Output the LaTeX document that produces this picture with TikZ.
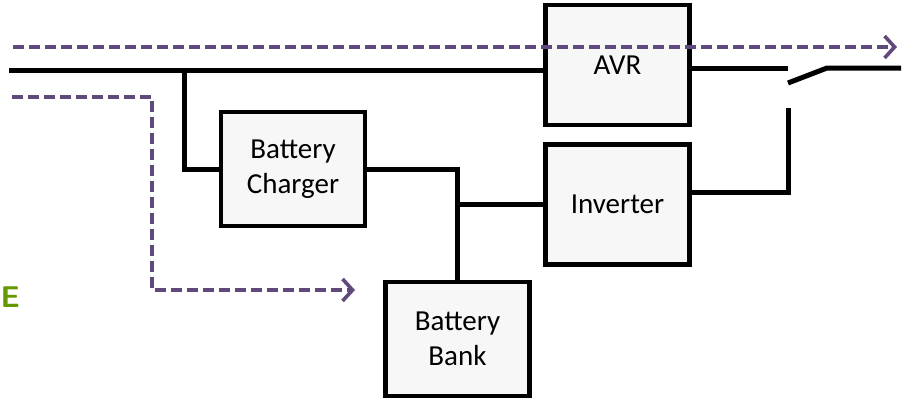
\documentclass[tikz,border=0pt]{standalone}
\usepackage{fontspec}
\setmainfont{Carlito}
\usepackage{xcolor}
\usetikzlibrary{arrows.meta}

\definecolor{flowpurple}{RGB}{96,74,123}
\definecolor{labelgreen}{RGB}{102,153,0}

\tikzset{
	box/.style = {draw, line width = 4.5pt, fill = gray!6, align = center,
		minimum width = 144pt, minimum height = 114pt,
		font = \fontsize{29}{35}\selectfont},
	wire/.style = {line width = 5pt},
	flow/.style = {flowpurple, line width = 3.6pt, dash pattern = on 11pt off 5pt,
		-{Straight Barb[length = 10pt, width = 22pt, line width = 3.6pt]}}
}

\begin{document}
\begin{tikzpicture}[x = 1pt, y = -1pt]
			\useasboundingbox (0,0) rectangle (911,399);

			\node[box, minimum height = 120pt] (avr) at (617.5,65) {AVR};
			\node[box] (charger) at (293,169) {Battery\\Charger};
			\node[box, minimum height = 120pt] (inverter) at (617.5,204.5) {Inverter};
			\node[box] (bank) at (457.5,339) {Battery\\Bank};

			\coordinate (in) at (9,70);
			\coordinate (tap) at (184,70);
			\coordinate (swa) at (788,68);
			\coordinate (swlow) at (788,108);
			\coordinate (out) at (901,68);

			% supply line and charger branch
			\draw[wire] (in) -- (in -| avr.west);
			\draw[wire] (tap) |- (charger.west);
			\draw[wire] (charger.east) -| (bank.north);
			\draw[wire] (bank.north |- inverter.west) -- (inverter.west);

			% output switch
			\draw[wire] (avr.east |- swa) -- (swa);
			\draw[wire] ([yshift = 12pt]inverter.east) -| (swlow);
			\draw[wire] (788,83) -- (827,68) -- (out);

			% power flow
			\draw[flow] (13,47) -- (897,47);
			\draw[flow] (12,97) -| (152,290) -- (355,290);

			\node[anchor = west, inner sep = 0pt, text = labelgreen,
				font = \sffamily\bfseries\fontsize{30}{30}\selectfont] (mode) at (0.5,297) {E};
		\end{tikzpicture}
\end{document}
